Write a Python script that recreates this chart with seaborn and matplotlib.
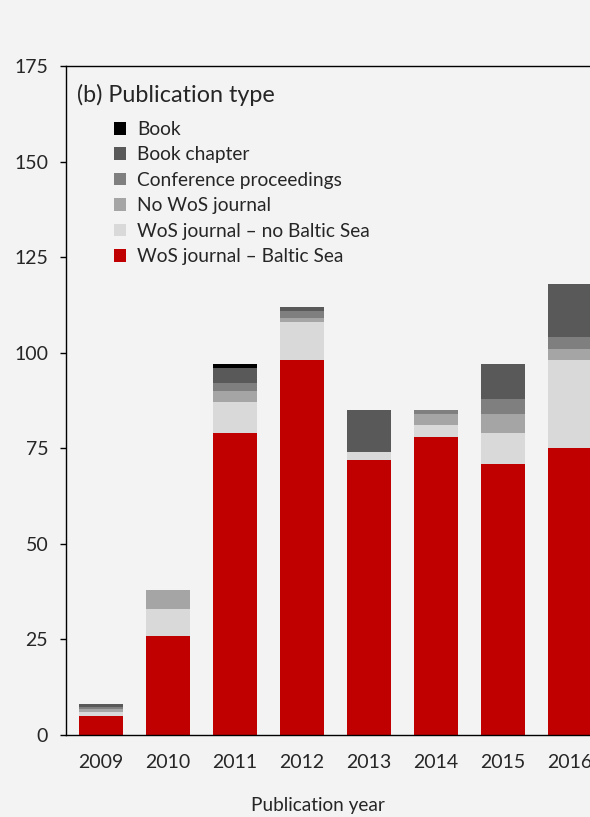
import numpy as np
import pandas as pd
import matplotlib.pyplot as plt
import seaborn as sns
from matplotlib.patches import Patch

# values (publications per year)
years = ["2009", "2010", "2011", "2012", "2013", "2014", "2015", "2016"]
wos_baltic = [5, 26, 79, 98, 72, 78, 71, 75]
wos_no_baltic = [1, 7, 8, 10, 2, 3, 8, 23]
no_wos = [0.7, 5, 3, 1, 0, 3, 5, 3]
conference = [0.6, 0, 2, 2, 0, 1, 4, 3]
book_chapter = [0.7, 0, 4, 1, 11, 0, 9, 14]
book = [0, 0, 1, 0, 0, 0, 0, 0]

labels = ["WoS journal – Baltic Sea", "WoS journal – no Baltic Sea", "No WoS journal",
          "Conference proceedings", "Book chapter", "Book"]
colors = ["#c00000", "#d9d9d9", "#a5a5a5", "#7f7f7f", "#595959", "#000000"]
series = [wos_baltic, wos_no_baltic, no_wos, conference, book_chapter, book]

df = pd.DataFrame({"year": years})
cum = np.zeros(len(years))
for lab, vals in zip(labels, series):
    cum = cum + np.array(vals, dtype=float)
    df[lab] = cum

bg = "#f3f3f3"
sns.set_theme(style="white")
plt.rcParams["font.family"] = ["Lato", "DejaVu Sans"]

fig = plt.figure(figsize=(5.9, 8.17), dpi=100, facecolor=bg)
ax = fig.add_axes([66 / 590, 82 / 817, 1 - 66 / 590, 669 / 817])
ax.set_facecolor(bg)

# stacked bars: draw cumulative totals from the top layer down
for lab, col in reversed(list(zip(labels, colors))):
    sns.barplot(data=df, x="year", y=lab, color=col, saturation=1,
                width=0.657, linewidth=0, ax=ax)

ax.set_xlim(-0.523, 7.303)
ax.set_ylim(0, 175)
ax.set_yticks([0, 25, 50, 75, 100, 125, 150, 175])
ax.set_xlabel("")
ax.set_ylabel("")
ax.tick_params(axis="y", length=4.3, width=1, color="black", pad=8.5, labelsize=14, left=True)
ax.tick_params(axis="x", length=0, pad=14, labelsize=14)
for s in ["left", "bottom", "top"]:
    ax.spines[s].set_visible(True)
    ax.spines[s].set_color("black")
    ax.spines[s].set_linewidth(1)
ax.spines["right"].set_visible(False)

ax.text(11 / 524, 1 - 29 / 669, "(b) Publication type", transform=ax.transAxes,
        ha="left", va="center", fontsize=16.8)

handles = [Patch(facecolor=c, edgecolor="none") for c in reversed(colors)]
ax.legend(handles, list(reversed(labels)), loc="upper left",
          bbox_to_anchor=(48 / 524, 1 - 55 / 669), frameon=False,
          fontsize=13.8, handlelength=0.63, handleheight=0.63,
          handletextpad=0.57, labelspacing=0.44, borderpad=0, borderaxespad=0)

fig.text(318 / 590, 1 - 805 / 817, "Publication year", ha="center", va="center", fontsize=13.7)

fig.savefig("out.png", dpi=100, facecolor=bg)
